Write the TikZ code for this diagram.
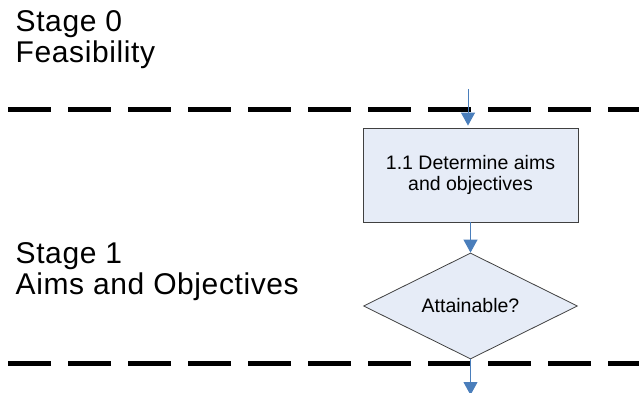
\documentclass[tikz,border=0pt]{standalone}
\usepackage{fontspec}
\setmainfont{Liberation Sans}
\newfontfamily\stagefont[LetterSpace=2]{Liberation Sans}
\usetikzlibrary{arrows.meta,shapes.geometric}
\definecolor{flowblue}{HTML}{4A7EBB}
\definecolor{boxfill}{HTML}{E6ECF7}
\definecolor{boxline}{HTML}{404040}
\tikzset{
  stageline/.style={line width=5pt, dash pattern=on 43pt off 17pt},
  stagetext/.style={anchor=base west, inner sep=0pt, font=\stagefont\fontsize{30}{31}\selectfont},
  process/.style={draw=boxline, line width=0.8pt, fill=boxfill, align=center,
    minimum width=215pt, minimum height=94pt, inner sep=0pt,
    font=\fontsize{19.5}{20.5}\selectfont},
  decision/.style={diamond, draw=boxline, line width=0.8pt, fill=boxfill, aspect=2,
    minimum width=214pt, minimum height=106pt, inner sep=0pt,
    font=\fontsize{19.5}{20.5}\selectfont},
  flow/.style={draw=flowblue, line width=1pt, -{Triangle[length=13pt,width=14pt]}}
}
\begin{document}
\begin{tikzpicture}[x=1pt,y=-1pt]
\useasboundingbox (0,0) rectangle (639,393);

% stage boundaries
\draw[stageline] (8,110) -- (639,110);
\draw[stageline] (8,363) -- (639,363);

% stage captions
\node[stagetext] (s0title) at (15.5,31.7) {Stage 0};
\node[stagetext] (s0name) at (15.5,62.3) {Feasibility};
\node[stagetext] (s1title) at (15.5,263.3) {Stage 1};
\node[stagetext] (s1name) at (15.5,294) {Aims and Objectives};

% flowchart
\node[process] (aims) at (470.5,175) {1.1 Determine aims\\and objectives};
\node[decision] (attain) at (470.5,306) {Attainable?};

\coordinate (entry) at (468,89);
\coordinate (exit) at (470.5,395);
\draw[flow, shorten >=2pt] (entry) -- (entry |- aims.north);
\draw[flow] (aims.south) -- (attain.north);
\draw[flow] (attain.south) -- (exit);
\end{tikzpicture}
\end{document}
